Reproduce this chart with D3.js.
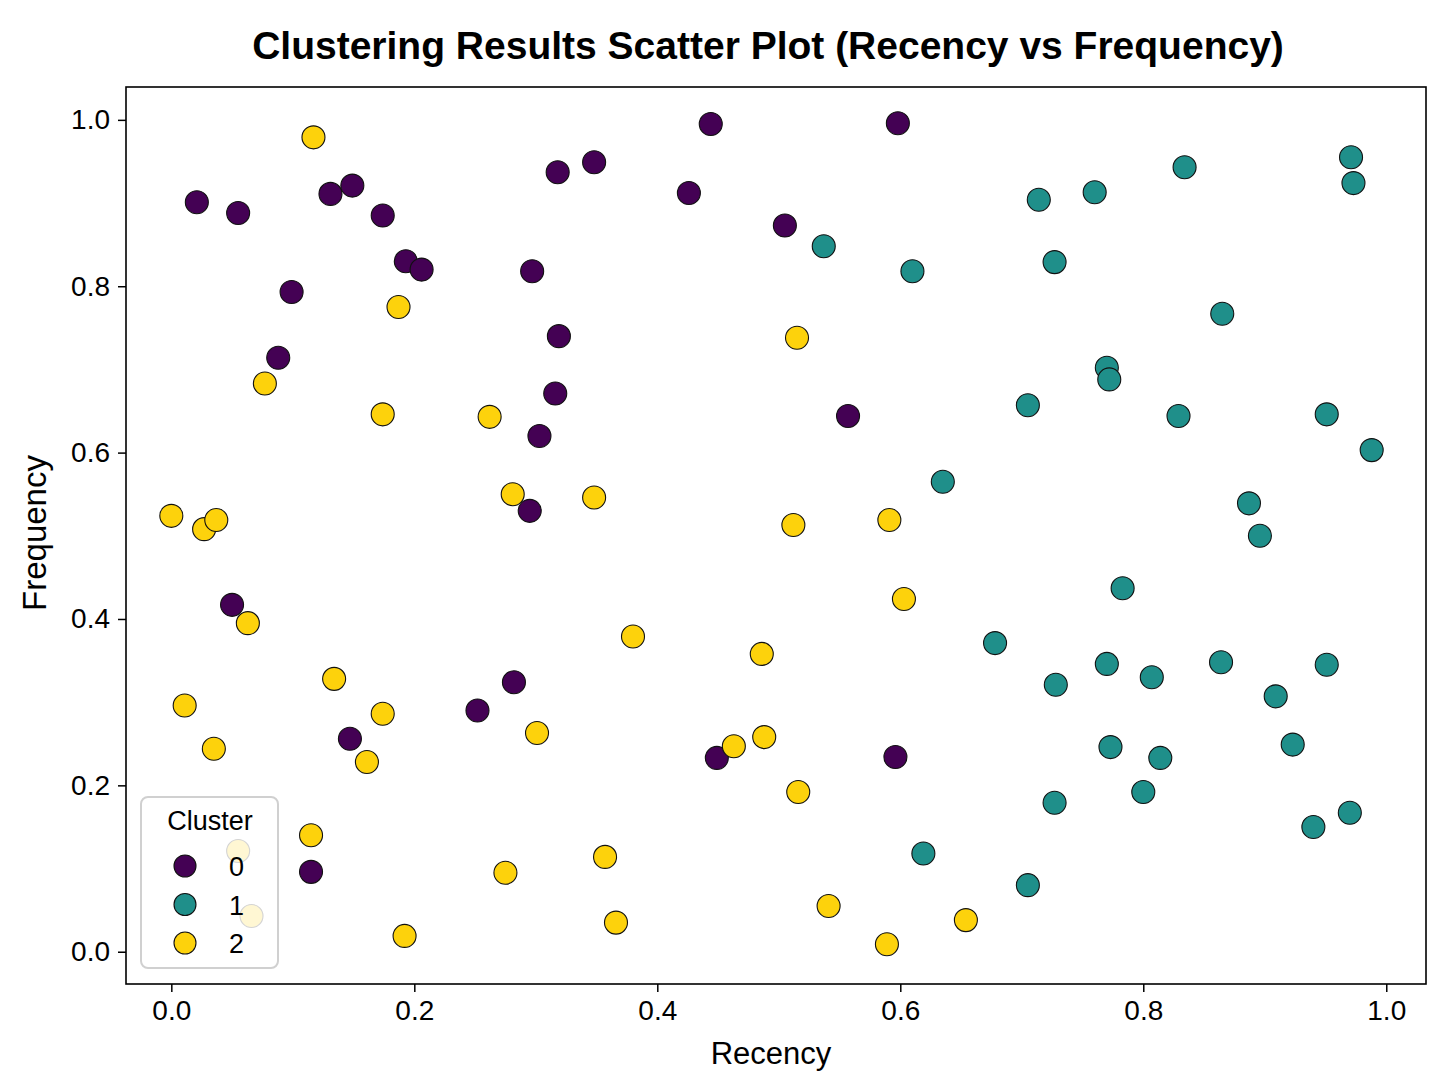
<!DOCTYPE html>
<html>
<head>
<meta charset="utf-8">
<script src="https://cdn.jsdelivr.net/npm/d3@7"></script>
<style>
  body { margin: 0; background: #fff; }
  text { font-family: "Liberation Sans", Arial, Helvetica, sans-serif; }
</style>
</head>
<body>
<svg id="chart" width="1448" height="1086"></svg>
<script>
// ---- Data ----
const clusters = ["0", "1", "2"];
const clusterColors = ["#440154", "#1f8f8a", "#fdd20c"];

const recency0 = [0.021,0.055,0.099,0.088,0.131,0.149,0.174,0.193,0.206,0.318,0.348,0.297,0.319,0.316,0.303,0.295,0.444,0.598,0.426,0.505,0.557,0.050,0.282,0.252,0.147,0.115,0.449,0.596];
const frequency0 = [0.901,0.888,0.793,0.714,0.911,0.921,0.885,0.830,0.820,0.937,0.949,0.818,0.740,0.671,0.620,0.530,0.995,0.996,0.912,0.873,0.644,0.417,0.324,0.290,0.256,0.096,0.233,0.234];

const recency1 = [0.537,0.610,0.714,0.760,0.834,0.971,0.973,0.727,0.865,0.770,0.772,0.705,0.829,0.951,0.988,0.635,0.887,0.896,0.783,0.678,0.770,0.728,0.807,0.864,0.951,0.909,0.773,0.923,0.814,0.727,0.800,0.940,0.970,0.619,0.705];
const frequency1 = [0.848,0.818,0.904,0.913,0.943,0.955,0.924,0.829,0.767,0.702,0.688,0.657,0.644,0.646,0.603,0.565,0.539,0.500,0.437,0.371,0.346,0.321,0.330,0.348,0.345,0.307,0.246,0.249,0.233,0.179,0.192,0.150,0.167,0.118,0.080];

const recency2 = [0.117,0.187,0.077,0.174,0.262,0.515,0.000,0.027,0.037,0.281,0.348,0.512,0.591,0.603,0.063,0.380,0.486,0.134,0.011,0.174,0.301,0.035,0.161,0.463,0.488,0.516,0.115,0.055,0.066,0.357,0.275,0.192,0.366,0.541,0.654,0.589];
const frequency2 = [0.979,0.775,0.683,0.646,0.643,0.738,0.524,0.508,0.519,0.550,0.546,0.513,0.519,0.424,0.395,0.379,0.358,0.328,0.296,0.286,0.263,0.244,0.228,0.247,0.258,0.192,0.140,0.121,0.043,0.114,0.095,0.019,0.035,0.055,0.038,0.009];

const xTicks = [0.0, 0.2, 0.4, 0.6, 0.8, 1.0];
const yTicks = [0.0, 0.2, 0.4, 0.6, 0.8, 1.0];

const seriesData = [
  recency0.map((r, i) => ({ x: r, y: frequency0[i], c: 0 })),
  recency1.map((r, i) => ({ x: r, y: frequency1[i], c: 1 })),
  recency2.map((r, i) => ({ x: r, y: frequency2[i], c: 2 }))
];

// ---- Layout ----
const svg = d3.select("#chart");
const plot = { left: 126, right: 1426, top: 87, bottom: 984 };

const x = d3.scaleLinear().domain([-0.0373, 1.0327]).range([plot.left, plot.right]);
const y = d3.scaleLinear().domain([-0.0388, 1.0395]).range([plot.bottom, plot.top]);

// Title
svg.append("text")
  .attr("x", 768).attr("y", 59)
  .attr("text-anchor", "middle")
  .attr("font-size", 39).attr("font-weight", "bold")
  .text("Clustering Results Scatter Plot (Recency vs Frequency)");

// Points
const g = svg.append("g");
seriesData.forEach(series => {
  g.selectAll(null).data(series).enter().append("circle")
    .attr("cx", d => x(d.x))
    .attr("cy", d => y(d.y))
    .attr("r", 11.5)
    .attr("fill", d => clusterColors[d.c])
    .attr("stroke", "#111")
    .attr("stroke-width", 1.1);
});

// Axes
const xAxis = svg.append("g")
  .attr("transform", `translate(0,${plot.bottom})`)
  .call(d3.axisBottom(x).tickValues(xTicks).tickFormat(d3.format(".1f")).tickSize(8).tickPadding(8));
const yAxis = svg.append("g")
  .attr("transform", `translate(${plot.left},0)`)
  .call(d3.axisLeft(y).tickValues(yTicks).tickFormat(d3.format(".1f")).tickSize(8).tickPadding(8));
[xAxis, yAxis].forEach(a => {
  a.select(".domain").remove();
  a.selectAll(".tick line").attr("stroke", "#000").attr("stroke-width", 1.5);
  a.selectAll(".tick text").attr("font-size", 28).attr("fill", "#000")
    .attr("font-family", "'Liberation Sans', Arial, sans-serif");
});

// Frame
svg.append("rect")
  .attr("x", plot.left).attr("y", plot.top)
  .attr("width", plot.right - plot.left).attr("height", plot.bottom - plot.top)
  .attr("fill", "none").attr("stroke", "#000").attr("stroke-width", 1.6);

// Axis labels
svg.append("text")
  .attr("x", 771).attr("y", 1064)
  .attr("text-anchor", "middle").attr("font-size", 31)
  .text("Recency");
svg.append("text")
  .attr("transform", "translate(46,533) rotate(-90)")
  .attr("text-anchor", "middle").attr("font-size", 33)
  .text("Frequency");

// Legend
const lg = svg.append("g");
lg.append("rect")
  .attr("x", 141).attr("y", 797).attr("width", 137).attr("height", 171)
  .attr("rx", 7).attr("ry", 7)
  .attr("fill", "#fff").attr("fill-opacity", 0.82)
  .attr("stroke", "#d0d0d0").attr("stroke-width", 2);
lg.append("text")
  .attr("x", 210).attr("y", 830)
  .attr("text-anchor", "middle").attr("font-size", 27)
  .text("Cluster");
const legendY = d3.scalePoint().domain(clusters).range([866, 943]);
clusters.forEach((c, i) => {
  lg.append("circle")
    .attr("cx", 185).attr("cy", legendY(c)).attr("r", 11)
    .attr("fill", clusterColors[i]).attr("stroke", "#111").attr("stroke-width", 1.1);
  lg.append("text")
    .attr("x", 229).attr("y", legendY(c) + 10)
    .attr("font-size", 27)
    .text(c);
});
</script>
</body>
</html>
